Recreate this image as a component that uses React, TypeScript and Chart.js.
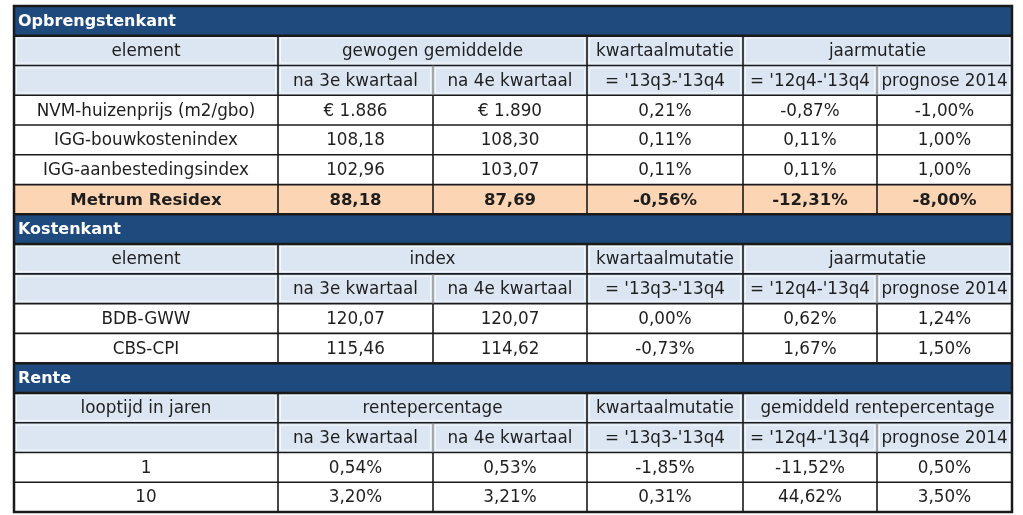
import React, { useEffect, useRef } from "react";
import { Chart, registerables } from "chart.js";

Chart.register(...registerables);

// ---- data ----
const sectionTitles = ["Opbrengstenkant", "Kostenkant", "Rente"];
const firstColHeaders = ["element", "element", "looptijd in jaren"];
const valueGroupHeaders = ["gewogen gemiddelde", "index", "rentepercentage"];
const quarterHeader = "kwartaalmutatie";
const yearGroupHeaders = ["jaarmutatie", "jaarmutatie", "gemiddeld rentepercentage"];
const subHeaders = ["na 3e kwartaal", "na 4e kwartaal", "= '13q3-'13q4", "= '12q4-'13q4", "prognose 2014"];

const opbrengstLabels = ["NVM-huizenprijs (m2/gbo)", "IGG-bouwkostenindex", "IGG-aanbestedingsindex", "Metrum Residex"];
const opbrengstQ3 = [1886, 108.18, 102.96, 88.18];
const opbrengstQ4 = [1890, 108.3, 103.07, 87.69];
const opbrengstKwartaal = [0.21, 0.11, 0.11, -0.56];
const opbrengstJaar = [-0.87, 0.11, 0.11, -12.31];
const opbrengstPrognose = [-1.0, 1.0, 1.0, -8.0];

const kostenLabels = ["BDB-GWW", "CBS-CPI"];
const kostenQ3 = [120.07, 115.46];
const kostenQ4 = [120.07, 114.62];
const kostenKwartaal = [0.0, -0.73];
const kostenJaar = [0.62, 1.67];
const kostenPrognose = [1.24, 1.5];

const renteLabels = ["1", "10"];
const renteQ3 = [0.54, 3.2];
const renteQ4 = [0.53, 3.21];
const renteKwartaal = [-1.85, 0.31];
const renteJaar = [-11.52, 44.62];
const rentePrognose = [0.5, 3.5];

// ---- layout / style ----
const COL_WEIGHTS = [264, 155, 154, 156, 134, 135];
const COLORS = {
  section: "#1f4a7e",
  head: "#dce6f2",
  white: "#ffffff",
  highlight: "#fcd5b4",
  text: "#1e1e1e",
  line: "#1a1a1a",
  softLine: "#7f7f7f",
};
const FONT = "'DejaVu Sans', sans-serif";

const dec = (v: number) => v.toFixed(2).replace(".", ",");
const pct = (v: number) => dec(v) + "%";
const euro = (v: number) => "€ " + Math.round(v).toString().replace(/\B(?=(\d{3})+(?!\d))/g, ".");

type Cell = { c0: number; c1: number; text: string; soft?: boolean };
type Row = { kind: "section" | "head" | "sub" | "data"; fill: string; bold?: boolean; cells: Cell[] };

function buildRows(): Row[] {
  const rows: Row[] = [];
  const sections = [
    {
      labels: opbrengstLabels,
      q3: opbrengstQ3.map((v, i) => (i === 0 ? euro(v) : dec(v))),
      q4: opbrengstQ4.map((v, i) => (i === 0 ? euro(v) : dec(v))),
      kw: opbrengstKwartaal,
      jr: opbrengstJaar,
      pr: opbrengstPrognose,
      highlightIndex: 3,
    },
    {
      labels: kostenLabels,
      q3: kostenQ3.map(dec),
      q4: kostenQ4.map(dec),
      kw: kostenKwartaal,
      jr: kostenJaar,
      pr: kostenPrognose,
      highlightIndex: -1,
    },
    {
      labels: renteLabels,
      q3: renteQ3.map(pct),
      q4: renteQ4.map(pct),
      kw: renteKwartaal,
      jr: renteJaar,
      pr: rentePrognose,
      highlightIndex: -1,
    },
  ];
  sections.forEach((s, si) => {
    rows.push({ kind: "section", fill: COLORS.section, cells: [{ c0: 0, c1: 6, text: sectionTitles[si] }] });
    rows.push({
      kind: "head",
      fill: COLORS.head,
      cells: [
        { c0: 0, c1: 1, text: firstColHeaders[si] },
        { c0: 1, c1: 3, text: valueGroupHeaders[si] },
        { c0: 3, c1: 4, text: quarterHeader },
        { c0: 4, c1: 6, text: yearGroupHeaders[si] },
      ],
    });
    rows.push({
      kind: "sub",
      fill: COLORS.head,
      cells: [
        { c0: 0, c1: 1, text: "" },
        ...subHeaders.map((t, i) => ({ c0: i + 1, c1: i + 2, text: t, soft: i === 1 || i === 4 })),
      ],
    });
    s.labels.forEach((lab, i) => {
      const hl = i === s.highlightIndex;
      rows.push({
        kind: "data",
        fill: hl ? COLORS.highlight : COLORS.white,
        bold: hl,
        cells: [
          { c0: 0, c1: 1, text: lab },
          { c0: 1, c1: 2, text: s.q3[i] },
          { c0: 2, c1: 3, text: s.q4[i] },
          { c0: 3, c1: 4, text: pct(s.kw[i]) },
          { c0: 4, c1: 5, text: pct(s.jr[i]) },
          { c0: 5, c1: 6, text: pct(s.pr[i]) },
        ],
      });
    });
  });
  return rows;
}

const ROWS = buildRows();
const COL_EDGES = COL_WEIGHTS.reduce((acc, w) => [...acc, acc[acc.length - 1] + w], [0] as number[]);

const tablePlugin = {
  id: "tablePlugin",
  afterDraw(chart: any) {
    const ctx = chart.ctx as CanvasRenderingContext2D;
    const xs = chart.scales.x;
    const ys = chart.scales.y;
    const X = (c: number) => xs.getPixelForValue(COL_EDGES[c]);
    const Y = (r: number) => ys.getPixelForValue(r);
    ctx.save();
    // fills
    ROWS.forEach((row, r) => {
      ctx.fillStyle = row.fill;
      ctx.fillRect(X(0), Y(r), X(6) - X(0), Y(r + 1) - Y(r));
    });
    // subtle white inner edge in head rows
    ROWS.forEach((row, r) => {
      if (row.kind !== "head" && row.kind !== "sub") return;
      ctx.strokeStyle = "rgba(255,255,255,0.7)";
      ctx.lineWidth = 1;
      row.cells.forEach((c) => {
        ctx.strokeRect(X(c.c0) + 2.5, Y(r) + 2.5, X(c.c1) - X(c.c0) - 5, Y(r + 1) - Y(r) - 5);
      });
    });
    // horizontal lines
    for (let r = 1; r < ROWS.length; r++) {
      const thick = ROWS[r].kind === "section" || ROWS[r - 1].kind === "section";
      ctx.strokeStyle = COLORS.line;
      ctx.lineWidth = thick ? 2.5 : 1.6;
      ctx.beginPath();
      ctx.moveTo(X(0), Y(r));
      ctx.lineTo(X(6), Y(r));
      ctx.stroke();
    }
    // vertical lines
    ROWS.forEach((row, r) => {
      if (row.kind === "section") return;
      row.cells.forEach((c) => {
        if (c.c0 === 0) return;
        ctx.strokeStyle = c.soft ? COLORS.softLine : COLORS.line;
        ctx.lineWidth = c.soft ? 1.2 : 1.6;
        ctx.beginPath();
        ctx.moveTo(X(c.c0), Y(r));
        ctx.lineTo(X(c.c0), Y(r + 1));
        ctx.stroke();
      });
    });
    // outer border
    ctx.strokeStyle = COLORS.line;
    ctx.lineWidth = 2.5;
    ctx.strokeRect(X(0), Y(0), X(6) - X(0), Y(ROWS.length) - Y(0));
    // text
    ctx.textBaseline = "middle";
    ROWS.forEach((row, r) => {
      const cy = (Y(r) + Y(r + 1)) / 2 + 1;
      row.cells.forEach((c) => {
        if (!c.text) return;
        if (row.kind === "section") {
          ctx.fillStyle = "#ffffff";
          ctx.font = `bold 16px ${FONT}`;
          ctx.textAlign = "left";
          ctx.fillText(c.text, X(0) + 4, cy);
        } else {
          ctx.fillStyle = COLORS.text;
          ctx.font = row.bold ? `bold 16.5px ${FONT}` : `16.8px ${FONT}`;
          ctx.textAlign = "center";
          ctx.fillText(c.text, (X(c.c0) + X(c.c1)) / 2, cy);
        }
      });
    });
    ctx.restore();
  },
};

export default function App() {
  const canvasRef = useRef<HTMLCanvasElement | null>(null);
  useEffect(() => {
    if (!canvasRef.current) return;
    const chart = new Chart(canvasRef.current, {
      type: "scatter",
      data: { datasets: [] },
      options: {
        animation: false,
        responsive: false,
        maintainAspectRatio: false,
        layout: { padding: { left: 14, top: 6, right: 11, bottom: 3 } },
        plugins: { legend: { display: false }, tooltip: { enabled: false } },
        scales: {
          x: { type: "linear", offset: false, min: 0, max: COL_EDGES[COL_EDGES.length - 1], display: false },
          y: { type: "linear", offset: false, min: 0, max: ROWS.length, reverse: true, display: false },
        },
      },
      plugins: [tablePlugin],
    });
    return () => chart.destroy();
  }, []);
  return (
    <div style={{ position: "absolute", left: 0, top: 0, width: 1023, height: 515, background: "#fff" }}>
      <canvas ref={canvasRef} width={1023} height={515} style={{ display: "block" }} />
    </div>
  );
}
